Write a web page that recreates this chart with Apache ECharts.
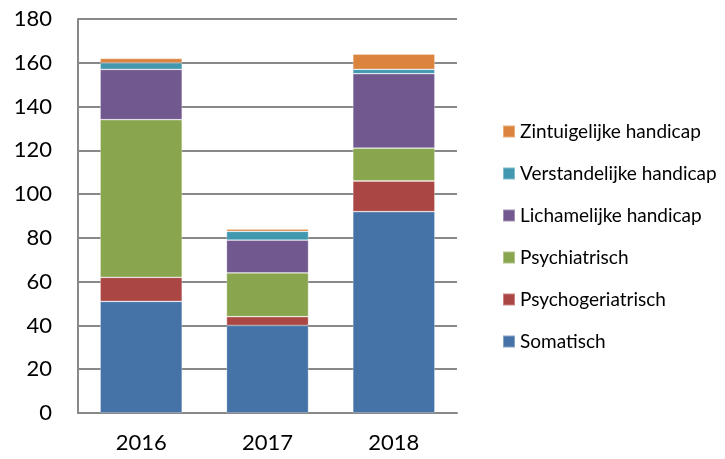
<!DOCTYPE html>
<html lang="nl">
<head>
    <meta charset="UTF-8">
    <title>Chart</title>
    <script src="https://cdn.jsdelivr.net/npm/echarts@6/dist/echarts.min.js"></script>
    <style>
        *{padding:0;margin:0;}
        html,body{width:100%;height:100%;background:#fff;}
        .echarts{width:725px;height:459px;}
    </style>
</head>
<body>
<div class="echarts"></div>
<script>
    let years=['2016','2017','2018'];
    let names=['Somatisch','Psychogeriatrisch','Psychiatrisch','Lichamelijke handicap','Verstandelijke handicap','Zintuigelijke handicap'];
    let colors=['#4572A7','#AA4643','#89A54E','#71588F','#4198AF','#DB843D'];
    let somatisch=[51,40,92];
    let psychogeriatrisch=[11,4,14];
    let psychiatrisch=[72,20,15];
    let lichamelijke=[23,15,34];
    let verstandelijke=[3,4,2];
    let zintuigelijke=[2,1,7];
    let yTicks=[0,20,40,60,80,100,120,140,160,180];

    window.onload=function () {
        let main=document.querySelector('.echarts');
        let myCharts=echarts.init(main);
        let values=[somatisch,psychogeriatrisch,psychiatrisch,lichamelijke,verstandelijke,zintuigelijke];
        let series=names.map((name,i)=>({
            name:name,
            type:'bar',
            stack:'total',
            barWidth:'65%',
            data:values[i],
            itemStyle:{color:colors[i],borderColor:'rgba(255,255,255,0.35)',borderWidth:0.8}
        }));
        let font='Lato, "Open Sans", sans-serif';
        let option={
            backgroundColor:'#fff',
            color:colors,
            animation:false,
            grid:{left:78,right:268,top:19,bottom:46,containLabel:false},
            legend:{
                orient:'vertical',
                left:497,
                top:117,
                data:names.slice().reverse(),
                itemWidth:12,
                itemHeight:12,
                itemGap:23,
                icon:'rect',
                textStyle:{fontSize:19,fontFamily:font,color:'#000',lineHeight:19}
            },
            xAxis:{
                type:'category',
                data:years,
                axisLine:{lineStyle:{color:'#888',width:2}},
                axisTick:{show:false},
                axisLabel:{fontSize:22,fontFamily:font,color:'#000',margin:19}
            },
            yAxis:{
                type:'value',
                min:yTicks[0],
                max:yTicks[yTicks.length-1],
                interval:20,
                axisLine:{show:true,lineStyle:{color:'#888',width:2}},
                axisTick:{show:false},
                splitLine:{lineStyle:{color:'#888',width:2}},
                axisLabel:{fontSize:22,fontFamily:font,color:'#000',margin:26}
            },
            series
        };
        myCharts.setOption(option);
    }
</script>
</body>
</html>
